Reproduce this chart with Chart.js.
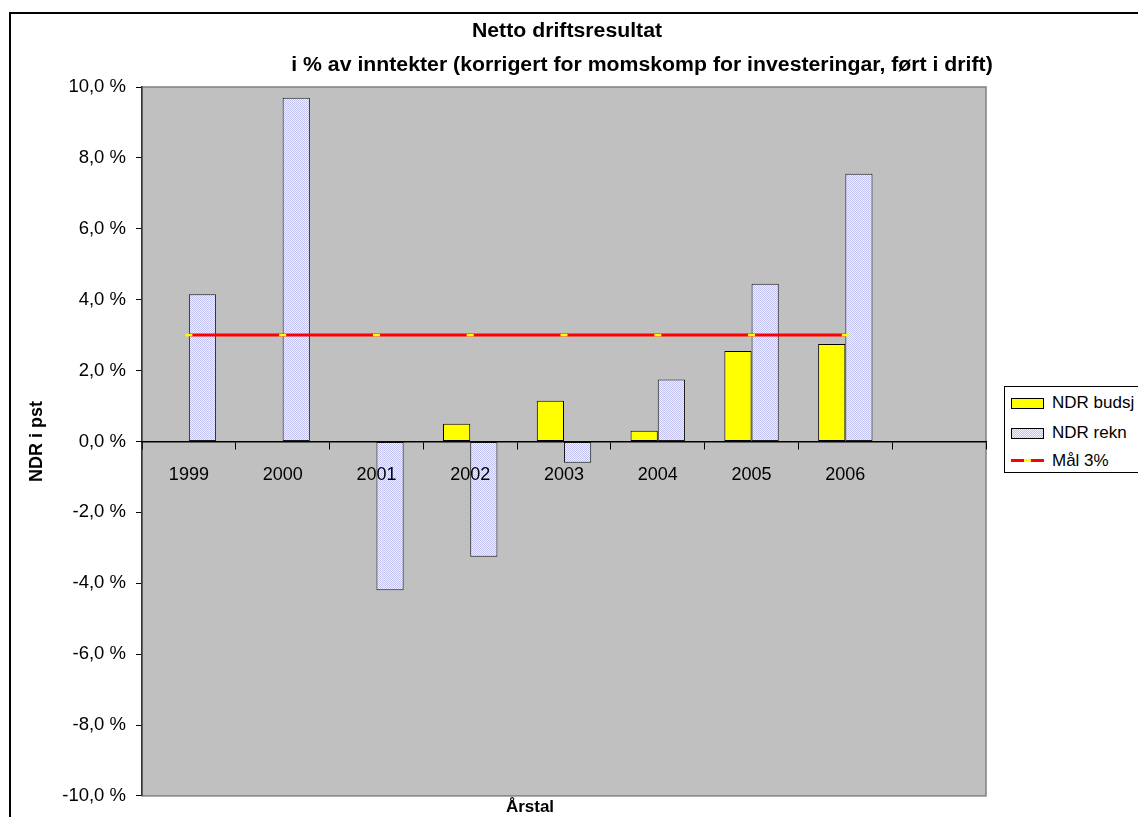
<!DOCTYPE html>
<html>
<head>
<meta charset="utf-8">
<title>Netto driftsresultat</title>
<script src="https://cdn.jsdelivr.net/npm/chart.js@4.4.1/dist/chart.umd.min.js"></script>
<style>
  html, body { margin: 0; padding: 0; background: #fff; overflow: hidden; }
  #ramme { position: absolute; left: 9px; top: 12px; width: 1300px; height: 900px;
           border-left: 2px solid #000; border-top: 2px solid #000; }
  #wrap { position: absolute; left: 0; top: 0; width: 1138px; height: 817px; }
  .tittel { position: absolute; white-space: nowrap; color: #000;
            font: bold 19.5px "Liberation Sans", Arial, sans-serif; line-height: 24px;
            transform: translateX(-50%) scaleX(1.09); }
  #aksetittel { position: absolute; left: 530px; top: 797px; white-space: nowrap; color: #000;
                font: bold 17px "Liberation Sans", Arial, sans-serif; line-height: 20px;
                transform: translateX(-50%); }
  #forklaring { position: absolute; left: 1004px; top: 386px; width: 170px; height: 85px;
                border: 1px solid #000; background: #fff;
                font: 17px "Liberation Sans", Arial, sans-serif; color: #000; }
  .rad { position: absolute; left: 6px; height: 20px; line-height: 20px; white-space: nowrap; }
  .rad span { position: absolute; left: 41px; top: 0; }
  .boks { position: absolute; left: 0; top: 5px; width: 31px; height: 9px; border: 1px solid #000; }
  .strek { position: absolute; left: 0; top: 8px; width: 33px; height: 3px; background: #ff0000; }
  .strek i { position: absolute; left: 13px; top: 0; width: 7px; height: 3px; background: #ffff00; }
</style>
</head>
<body>
<div id="ramme"></div>
<div id="wrap"><canvas id="graf" width="1138" height="817"></canvas></div>
<div class="tittel" style="top:18px; left:567px">Netto driftsresultat</div>
<div class="tittel" style="top:52px; left:642px">i % av inntekter (korrigert for momskomp for investeringar, ført i drift)</div>
<div id="aksetittel">Årstal</div>
<div id="forklaring">
  <div class="rad" style="top:6px"><div class="boks" style="background:#ffff00"></div><span>NDR budsj</span></div>
  <div class="rad" style="top:36px"><div class="boks" id="rekn-boks"></div><span>NDR rekn</span></div>
  <div class="rad" style="top:64px"><div class="strek"><i></i></div><span>Mål 3%</span></div>
</div>
<script>
// data
const aar = ['1999', '2000', '2001', '2002', '2003', '2004', '2005', '2006', ''];
const ndrBudsj = [null, null, null, 0.5, 1.15, 0.3, 2.55, 2.75, null];
const ndrRekn = [4.15, 9.7, -4.2, -3.25, -0.6, 1.75, 4.45, 7.55, null];
const maal = [3, 3, 3, 3, 3, 3, 3, 3, null];
const yVerdier = [-10, -8, -6, -4, -2, 0, 2, 4, 6, 8, 10];

const fontFam = '"Liberation Sans", Arial, sans-serif';

// skravert fyll for NDR rekn
function lagMonster() {
  const c = document.createElement('canvas');
  c.width = 2; c.height = 2;
  const g = c.getContext('2d');
  g.fillStyle = '#f2f2ff'; g.fillRect(0, 0, 2, 2);
  g.fillStyle = '#c2c2f2'; g.fillRect(0, 0, 1, 1); g.fillRect(1, 1, 1, 1);
  return c;
}
const monsterCanvas = lagMonster();
const ctx = document.getElementById('graf').getContext('2d');
const reknFyll = ctx.createPattern(monsterCanvas, 'repeat');
document.getElementById('rekn-boks').style.background =
  'url(' + monsterCanvas.toDataURL() + ')';

// grå bakgrunn i plottet
const plotBakgrunn = {
  id: 'plotBakgrunn',
  beforeDraw(chart) {
    const a = chart.chartArea;
    const c = chart.ctx;
    c.save();
    c.fillStyle = '#c0c0c0';
    c.fillRect(a.left, a.top, a.right - a.left, a.bottom - a.top);
    c.strokeStyle = '#808080';
    c.lineWidth = 1.5;
    c.strokeRect(a.left, a.top, a.right - a.left, a.bottom - a.top);
    c.restore();
  }
};

new Chart(ctx, {
  type: 'bar',
  data: {
    labels: aar,
    datasets: [
      {
        type: 'line',
        label: 'Mål 3%',
        data: maal,
        borderColor: '#ff0000',
        borderWidth: 3,
        pointStyle: 'line',
        pointRadius: 3.5,
        pointBorderColor: '#ffff00',
        pointBorderWidth: 2.5,
        pointHoverRadius: 3.5,
        fill: false,
        order: 0
      },
      {
        label: 'NDR budsj',
        data: ndrBudsj,
        backgroundColor: '#ffff00',
        borderColor: '#000',
        borderWidth: 1,
        borderSkipped: false,
        order: 1
      },
      {
        label: 'NDR rekn',
        data: ndrRekn,
        backgroundColor: reknFyll,
        borderColor: '#1a1a1a',
        borderWidth: 1,
        borderSkipped: false,
        order: 1
      }
    ]
  },
  options: {
    responsive: false,
    animation: false,
    events: [],
    layout: { padding: { left: 20, right: 152, top: 87, bottom: 20 } },
    datasets: { bar: { barPercentage: 1, categoryPercentage: 0.58 } },
    plugins: {
      legend: { display: false },
      tooltip: { enabled: false },
      title: { display: false }
    },
    scales: {
      x: {
        type: 'category',
        position: { y: 0 },
        offset: true,
        grid: { drawOnChartArea: false, drawTicks: true, tickLength: 7, color: '#000', offset: true },
        border: { display: true, color: '#000', width: 1.5, z: 1 },
        ticks: { color: '#000', font: { family: fontFam, size: 18 }, padding: 16, maxRotation: 0, autoSkip: false, z: 1 }
      },
      y: {
        min: -10,
        max: 10,
        afterBuildTicks(scale) { scale.ticks = yVerdier.map(v => ({ value: v })); },
        afterFit(scale) { scale.width = 122; },
        grid: { drawOnChartArea: false, drawTicks: true, tickLength: 6, color: '#000' },
        border: { display: true, color: '#333', width: 1.5 },
        ticks: {
          color: '#000',
          font: { family: fontFam, size: 18.5 },
          padding: 10,
          callback: v => v.toFixed(1).replace('.', ',') + ' %'
        },
        title: {
          display: true, text: 'NDR i pst', color: '#000',
          font: { family: fontFam, size: 18, weight: 'bold', lineHeight: 1.2 },
          padding: { top: 6, bottom: 0 }
        }
      }
    }
  },
  plugins: [plotBakgrunn]
});
</script>
</body>
</html>
